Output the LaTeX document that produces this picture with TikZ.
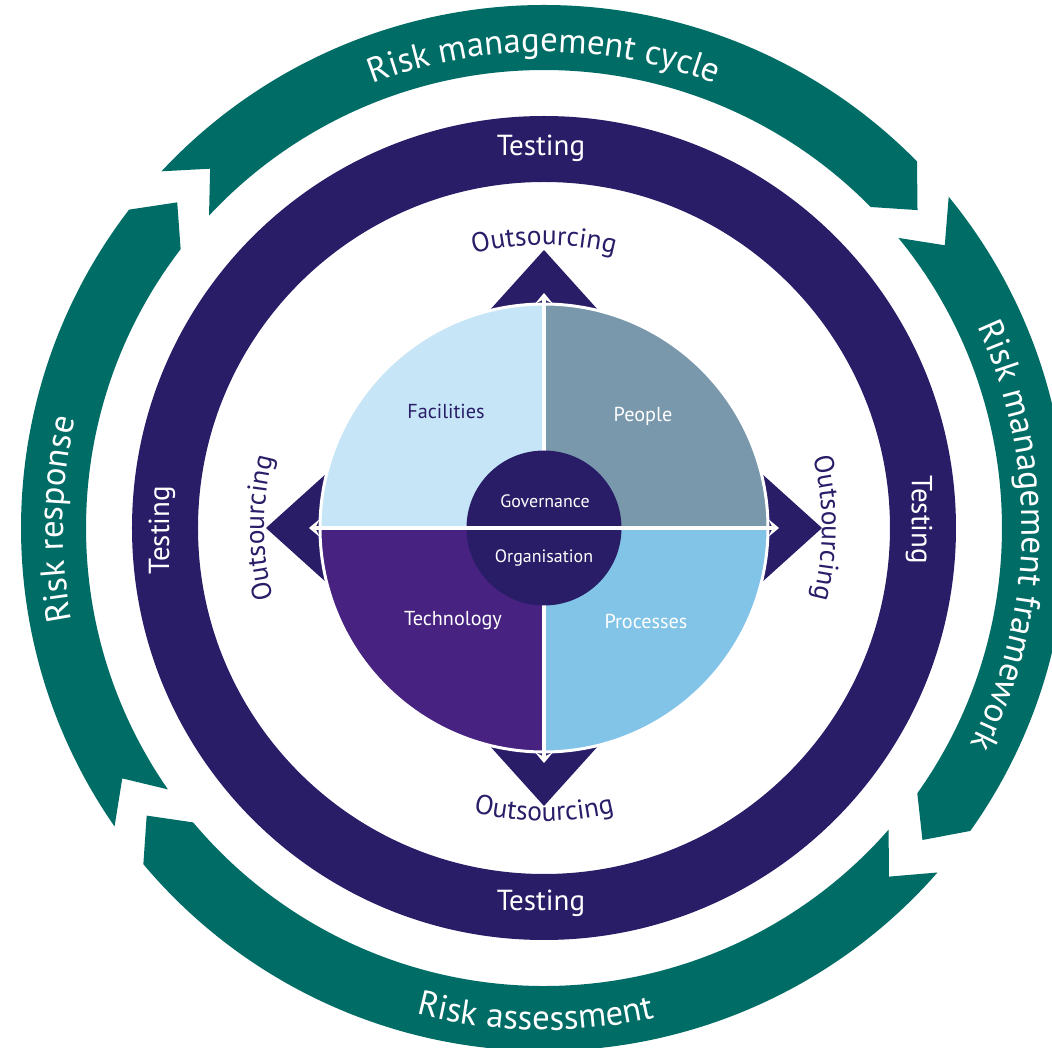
\documentclass[tikz,border=0pt]{standalone}
\usepackage{fontspec}
\setmainfont{PT Sans}
\usetikzlibrary{decorations.text, arrows.meta}

\definecolor{cycleteal}{RGB}{0,108,102}
\definecolor{ringdark}{RGB}{42,29,104}
\definecolor{facilblue}{RGB}{198,230,248}
\definecolor{peoplegrey}{RGB}{122,152,172}
\definecolor{techpurple}{RGB}{72,34,128}
\definecolor{procblue}{RGB}{130,196,232}

\newcommand{\cyclefont}{\fontsize{19.8}{20}\selectfont\color{white}}
\newcommand{\outfont}{\fontsize{15.6}{16}\selectfont\color{ringdark}}
% one teal arrow of the outer cycle: tail angle, head angle
\newcommand{\cyclearrow}[2]{%
  \fill[cycleteal] (#1:523) arc[start angle=#1, end angle=#2, radius=523]
    -- ({#2-4.1}:490.5) -- (#2:458) arc[start angle=#2, end angle=#1, radius=458]
    -- ({#1-4.1}:490.5) -- cycle;}

\tikzstyle{ringlabel} = [text=white, font=\fontsize{16.5}{17}\selectfont]
\tikzstyle{quadlabel} = [text=white, font=\fontsize{11.5}{12}\selectfont]
\tikzstyle{corelabel} = [text=white, font=\fontsize{10.2}{11}\selectfont]
\tikzstyle{outsrc} = [fill=ringdark]
\tikzstyle{divider} = [white, line width=2pt, >={Stealth[length=6pt, width=10pt, inset=2.5pt]}, <->]
\tikzset{
  cyclelabel/.style={decorate, decoration={text along path, text align=center, text={|\cyclefont|#1}}},
  outlabel/.style={decorate, decoration={text along path, text align=center, text={|\outfont|#1}}}
}

\begin{document}
\begin{tikzpicture}[x=0.02cm, y=0.02cm]
    \clip (-544,-520) rectangle (508,528);

    % Outer cycle
    \cyclearrow{137}{44.5}
    \cyclearrow{39.3}{-35.4}
    \cyclearrow{-41.2}{-140}
    \cyclearrow{214.8}{142.5}

    \path[cyclelabel={Risk management cycle}] (130:476) arc[start angle=130, end angle=50, radius=476];
    \path[cyclelabel={Risk management framework}] (45:478) arc[start angle=45, end angle=-47, radius=478];
    \path[cyclelabel={Risk assessment}] (224:502) arc[start angle=224, end angle=314, radius=502];
    \path[cyclelabel={Risk response}] (219:481) arc[start angle=219, end angle=139, radius=481];

    % Testing ring
    \fill[ringdark, even odd rule] (0,0) circle[radius=412] (0,0) circle[radius=346];
    \node (testN) [ringlabel] at (-3,380) {Testing};
    \node (testS) [ringlabel] at (-3,-375) {Testing};
    \node (testW) [ringlabel, rotate=90] at (-382,-2) {Testing};
    \node (testE) [ringlabel, rotate=-90] at (375,8) {Testing};

    % Outsourcing arrows
    \fill[outsrc] (0,278) -- (-55,217) -- (55,217) -- cycle;
    \fill[outsrc] (0,-278) -- (-55,-217) -- (55,-217) -- cycle;
    \fill[outsrc] (-278,0) -- (-217,55) -- (-217,-55) -- cycle;
    \fill[outsrc] (278,0) -- (217,55) -- (217,-55) -- cycle;

    \path[outlabel={Outsourcing}] (120:283) arc[start angle=120, end angle=60, radius=283];
    \path[outlabel={Outsourcing}] (30:278) arc[start angle=30, end angle=-30, radius=278];
    \path[outlabel={Outsourcing}] (240:293) arc[start angle=240, end angle=300, radius=293];
    \path[outlabel={Outsourcing}] (210:280) arc[start angle=210, end angle=150, radius=280];

    % Quadrants
    \fill[facilblue] (0,0) -- (90:224) arc[start angle=90, end angle=180, radius=224] -- cycle;
    \fill[peoplegrey] (0,0) -- (0:224) arc[start angle=0, end angle=90, radius=224] -- cycle;
    \fill[techpurple] (0,0) -- (180:224) arc[start angle=180, end angle=270, radius=224] -- cycle;
    \fill[procblue] (0,0) -- (270:224) arc[start angle=270, end angle=360, radius=224] -- cycle;
    \draw[white, line width=1.7pt] (0,0) circle[radius=224];

    \coordinate (tipN) at (0,235);
    \coordinate (tipS) at (0,-235);
    \coordinate (tipW) at (-235,0);
    \coordinate (tipE) at (235,0);
    \draw[divider] (tipS) -- (tipN);
    \fill[ringdark] (0,0) circle[radius=77.5];
    \draw[divider] (tipW) -- (tipE);

    \node (facilities) [quadlabel, text=ringdark] at (-98,117) {Facilities};
    \node (people) [quadlabel] at (99,112) {People};
    \node (technology) [quadlabel] at (-91,-93) {Technology};
    \node (processes) [quadlabel] at (102,-93) {Processes};
    \node (governance) [corelabel] at (1,27) {Governance};
    \node (organisation) [corelabel] at (0,-30) {Organisation};

\end{tikzpicture}
\end{document}
